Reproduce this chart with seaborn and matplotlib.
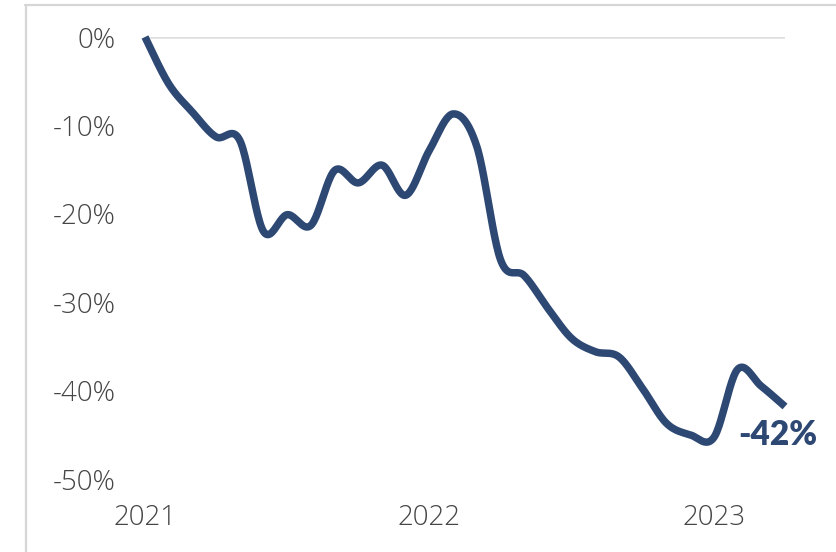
import numpy as np
import pandas as pd
import matplotlib
matplotlib.use("Agg")
import matplotlib.pyplot as plt
from matplotlib.lines import Line2D
import seaborn as sns

# Monthly cumulative change, Jan 2021 - Apr 2023 (%)
months = pd.date_range("2021-01-01", "2023-04-01", freq="MS")
change_pct = [0.0, -5.3, -8.5, -11.3, -11.7, -22.0, -20.1, -21.3, -15.1, -16.5,
              -14.5, -17.9, -12.8, -8.7, -12.4, -25.2, -27.0, -30.7, -34.1, -35.6,
              -36.2, -39.8, -43.7, -45.0, -45.3, -37.6, -39.5, -41.8]
year_labels = ["2021", "2022", "2023"]
y_ticks = [0, -10, -20, -30, -40, -50]
end_label = f"{round(change_pct[-1]):d}%"

LINE = "#2E4874"
TEXT = "#454545"


def smooth_path(x, y, steps=24):
    """Catmull-Rom curve through the points, like a smoothed spreadsheet line."""
    x = np.asarray(x, float)
    y = np.asarray(y, float)
    px = np.concatenate([[x[0]], x, [x[-1]]])
    py = np.concatenate([[y[0]], y, [y[-1]]])
    xs, ys = [], []
    t = np.linspace(0, 1, steps, endpoint=False)
    for i in range(1, len(px) - 2):
        p0x, p1x, p2x, p3x = px[i - 1:i + 3]
        p0y, p1y, p2y, p3y = py[i - 1:i + 3]
        c1x, c1y = p1x + (p2x - p0x) / 6, p1y + (p2y - p0y) / 6
        c2x, c2y = p2x - (p3x - p1x) / 6, p2y - (p3y - p1y) / 6
        bx = (1 - t) ** 3 * p1x + 3 * (1 - t) ** 2 * t * c1x + 3 * (1 - t) * t ** 2 * c2x + t ** 3 * p2x
        by = (1 - t) ** 3 * p1y + 3 * (1 - t) ** 2 * t * c1y + 3 * (1 - t) * t ** 2 * c2y + t ** 3 * p2y
        xs.append(bx)
        ys.append(by)
    xs.append([x[-1]])
    ys.append([y[-1]])
    return np.concatenate(xs), np.concatenate(ys)


sns.set_theme(style="white")
plt.rcParams["font.family"] = ["Open Sans", "DejaVu Sans"]

idx = np.arange(len(months))
sx, sy = smooth_path(idx, change_pct)
curve = pd.DataFrame({"month_index": sx, "change": sy})

fig = plt.figure(figsize=(8.36, 5.52), dpi=100, facecolor="white")
ax = fig.add_axes([145 / 836, 73 / 552, 640 / 836, 442 / 552])

ax.axhline(0, color="#dedede", lw=1.8, zorder=1)
sns.lineplot(data=curve, x="month_index", y="change", sort=False, estimator=None,
             color=LINE, lw=5.4, ax=ax, zorder=3, clip_on=False,
             solid_capstyle="butt")

ax.set_xlim(0, len(months) - 1)
ax.set_ylim(-50, 0)
year_pos = [i for i, m in enumerate(months) if m.month == 1]
ax.set_xticks(year_pos)
ax.set_xticklabels(year_labels)
ax.set_yticks(y_ticks)
ax.set_yticklabels([f"{v}%" for v in y_ticks])
ax.tick_params(axis="x", length=0, pad=18, labelsize=20, labelcolor=TEXT)
ax.tick_params(axis="y", length=0, pad=21, labelsize=20, labelcolor=TEXT)
for lab in ax.get_xticklabels() + ax.get_yticklabels():
    lab.set_fontweight(300)
ax.set_xlabel("")
ax.set_ylabel("")
for s in ax.spines.values():
    s.set_visible(False)
ax.set_facecolor("white")

ax.annotate(end_label, xy=(idx[-1], change_pct[-1]), xytext=(-7, -28),
            textcoords="offset pixels", ha="center", va="center",
            fontsize=24, fontweight="heavy", color=LINE, annotation_clip=False,
            family=["Lato", "DejaVu Sans"])

# thin frame on the left and top of the figure
fig.add_artist(Line2D([25.5 / 836, 25.5 / 836], [0, 547 / 552],
                      transform=fig.transFigure, color="#d6d6d6", lw=1.6))
fig.add_artist(Line2D([25 / 836, 1], [547 / 552, 547 / 552],
                      transform=fig.transFigure, color="#d6d6d6", lw=1.6))

fig.savefig("out.png", dpi=100, facecolor="white")
